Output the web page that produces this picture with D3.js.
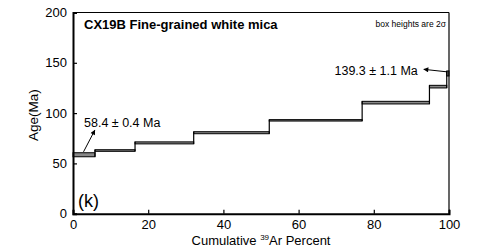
<!DOCTYPE html>
<html>
<head>
<meta charset="utf-8">
<script src="https://cdn.jsdelivr.net/npm/d3@7"></script>
<style>
  body { margin: 0; background: #fff; }
  text { font-family: Arial, "Liberation Sans", sans-serif; fill: #000; }
</style>
</head>
<body>
<script>
// cumulative 39Ar percent at the end of each step
var stepEnds = [5.85, 16.5, 32.1, 52.2, 76.9, 94.8, 99.4, 100];
// apparent age (Ma) and half box height (Ma)
var stepAges = [58.6, 62.8, 70.4, 80.5, 92.8, 110.4, 126.3, 139.4];
var stepErrs = [2.0, 0.8, 1.0, 1.0, 0.7, 1.3, 1.3, 2.5];

var xTicks = [0, 20, 40, 60, 80, 100];
var yTicks = [0, 50, 100, 150, 200];

var width = 481, height = 252;
var margin = {top: 12.5, right: 32, bottom: 38.3, left: 73};

var svg = d3.select('body').append('svg')
    .attr('width', width).attr('height', height);

var x = d3.scaleLinear().domain([0, 100]).range([margin.left, width - margin.right]);
var y = d3.scaleLinear().domain([0, 200]).range([height - margin.bottom, margin.top]);

svg.append('defs').append('marker')
    .attr('id', 'head')
    .attr('viewBox', '0 0 10 10').attr('refX', 9).attr('refY', 5)
    .attr('markerWidth', 8).attr('markerHeight', 5)
    .attr('markerUnits', 'userSpaceOnUse')
    .attr('orient', 'auto')
    .append('path').attr('d', 'M0,0L10,5L0,10z').attr('fill', '#000');

// steps as boxes
var steps = stepEnds.map(function (e, i) {
    return {x0: i ? stepEnds[i - 1] : 0, x1: e, lo: stepAges[i] - stepErrs[i], hi: stepAges[i] + stepErrs[i]};
});

svg.selectAll('rect.step')
    .data(steps)
    .enter()
    .append('rect')
    .attr('class', 'step')
    .attr('x', function (d) { return x(d.x0); })
    .attr('width', function (d) { return x(d.x1) - x(d.x0); })
    .attr('y', function (d) { return y(d.hi); })
    .attr('height', function (d) { return y(d.lo) - y(d.hi); })
    .attr('fill', '#888')
    .attr('stroke', '#000')
    .attr('stroke-width', 1);

// vertical connectors between steps
svg.selectAll('line.join')
    .data(steps.slice(1))
    .enter()
    .append('line')
    .attr('class', 'join')
    .attr('x1', function (d) { return x(d.x0); })
    .attr('x2', function (d) { return x(d.x0); })
    .attr('y1', function (d, i) { return y(Math.min(d.lo, steps[i].lo)); })
    .attr('y2', function (d, i) { return y(Math.max(d.hi, steps[i].hi)); })
    .attr('stroke', '#000')
    .attr('stroke-width', 1.2);

// frame
svg.append('line').attr('x1', x(0)).attr('x2', x(100)).attr('y1', y(200)).attr('y2', y(200))
    .attr('stroke', '#000').attr('stroke-width', 1);
svg.append('line').attr('x1', x(100)).attr('x2', x(100)).attr('y1', y(0)).attr('y2', y(200))
    .attr('stroke', '#000').attr('stroke-width', 1.2);

// axes with inward ticks
var xAxis = svg.append('g').attr('transform', 'translate(0,' + y(0) + ')');
xAxis.call(d3.axisBottom(x).tickValues(d3.range(0, 101, 10)).tickSize(-2).tickFormat(''));
xAxis.call(d3.axisBottom(x).tickValues(xTicks).tickSize(-4).tickPadding(6));
xAxis.selectAll('.domain').attr('stroke-width', 2);
xAxis.selectAll('.tick line').attr('stroke-width', 1.2);
xAxis.selectAll('text').attr('font-size', 13).attr('font-family', 'Arial, "Liberation Sans", sans-serif');

var yAxis = svg.append('g').attr('transform', 'translate(' + x(0) + ',0)');
yAxis.call(d3.axisLeft(y).tickValues(d3.range(0, 201, 10)).tickSize(-2).tickFormat(''));
yAxis.call(d3.axisLeft(y).tickValues(yTicks).tickSize(-4).tickPadding(6));
yAxis.selectAll('.domain').attr('stroke-width', 2);
yAxis.selectAll('.tick line').attr('stroke-width', 1.2);
yAxis.selectAll('text').attr('font-size', 13).attr('font-family', 'Arial, "Liberation Sans", sans-serif');

// labels
svg.append('text')
    .attr('x', x(50)).attr('y', 245)
    .attr('text-anchor', 'middle').attr('font-size', 13)
    .html('Cumulative <tspan font-size="8" dy="-5">39</tspan><tspan dy="5">Ar Percent</tspan>');

svg.append('text')
    .attr('transform', 'translate(38,' + (y(100) + 2) + ') rotate(-90)')
    .attr('text-anchor', 'middle').attr('font-size', 13.5)
    .text('Age(Ma)');

svg.append('text')
    .attr('x', 84).attr('y', 29.3)
    .attr('font-size', 13).attr('font-weight', 'bold')
    .text('CX19B Fine-grained white mica');

svg.append('text')
    .attr('x', 446).attr('y', 26.5)
    .attr('text-anchor', 'end').attr('font-size', 8.5)
    .attr('fill', '#222')
    .text('box heights are 2\u03c3');

svg.append('text')
    .attr('x', 78).attr('y', 206.5)
    .attr('font-size', 18)
    .text('(k)');

// age annotations with arrows (arrow ends given in data units)
var notes = [
    {label: '58.4 \u00b1 0.4 Ma', tx: 84, ty: 127, from: [2.8, 61.5], to: [5.8, 83]},
    {label: '139.3 \u00b1 1.1 Ma', tx: 334.5, ty: 75, from: [99.5, 141], to: [93.3, 143.5]}
];

notes.forEach(function (n) {
    svg.append('text')
        .attr('x', n.tx).attr('y', n.ty)
        .attr('font-size', 12.5)
        .text(n.label);
    svg.append('line')
        .attr('x1', x(n.from[0])).attr('y1', y(n.from[1]))
        .attr('x2', x(n.to[0])).attr('y2', y(n.to[1]))
        .attr('stroke', '#000').attr('stroke-width', 1)
        .attr('marker-end', 'url(#head)');
});
</script>
</body>
</html>
